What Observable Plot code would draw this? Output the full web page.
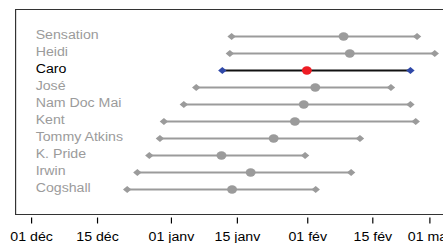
<!DOCTYPE html>
<html>
<head>
<meta charset="utf-8">
<script src="https://cdn.jsdelivr.net/npm/d3@7"></script>
<script src="https://cdn.jsdelivr.net/npm/@observablehq/plot@0.6"></script>
<style>
  html, body { margin: 0; padding: 0; background: #fff; }
  #chart svg { display: block; }
</style>
</head>
<body>
<div id="chart"></div>
<script>
// Varieties (top to bottom)
const names = ["Sensation", "Heidi", "Caro", "José", "Nam Doc Mai", "Kent", "Tommy Atkins", "K. Pride", "Irwin", "Cogshall"];
// Days after 1 December
const starts = [45.2, 44.8, 43.1, 37.2, 34.4, 29.9, 29.0, 26.6, 23.9, 21.6];
const peaks  = [70.5, 71.9, 62.2, 64.1, 61.5, 59.5, 54.7, 42.9, 49.5, 45.3];
const ends   = [87.1, 91.1, 85.6, 81.2, 85.6, 86.8, 74.2, 61.8, 72.2, 64.2];
const highlight = "Caro";
// Axis ticks
const tickValues = [0, 14.9, 31.6, 46.5, 62.4, 77.1, 90];
const tickLabels = ["01 déc", "15 déc", "01 janv", "15 janv", "01 fév", "15 fév", "01 mar"];

const rows = names.map((name, i) => ({name, start: starts[i], peak: peaks[i], end: ends[i]}));
const others = rows.filter(d => d.name !== highlight);
const hi = rows.filter(d => d.name === highlight);

const OUT_W = 443, S = 1.1813, W = OUT_W / S, H = 243;
const gray = "#9b9b9b";

const svg = Plot.plot({
  width: W,
  height: H,
  marginLeft: 15 / S,
  marginRight: 0,
  marginTop: 9,
  marginBottom: 25.5,
  style: {fontFamily: "'Liberation Sans', Arial, sans-serif", fontSize: "12px", color: "#000", background: "#fff"},
  x: {
    domain: [0, 90],
    range: [31 / S, 429.3 / S],
    ticks: tickValues,
    tickFormat: v => tickLabels[tickValues.indexOf(v)],
    tickSize: 6,
    tickPadding: 8,
    label: null
  },
  y: {type: "point", domain: names, range: [34.7, 191], padding: 0, axis: null},
  marks: [
    Plot.frame({stroke: "#333", insetBottom: 3.5, insetRight: -3}),
    Plot.text(names, {
      y: d => d, text: d => d, frameAnchor: "left", dx: 21 / S - 0.8, dy: -1, textAnchor: "start",
      fill: d => d === highlight ? "black" : gray, fontSize: 12
    }),
    Plot.ruleY(others, {y: "name", x1: "start", x2: "end", stroke: gray, strokeWidth: 1.8}),
    Plot.ruleY(hi, {y: "name", x1: "start", x2: "end", stroke: "#111", strokeWidth: 1.8}),
    Plot.dot(others, {x: "start", y: "name", symbol: "diamond2", r: 3.2, fill: gray, stroke: "none"}),
    Plot.dot(others, {x: "end", y: "name", symbol: "diamond2", r: 3.2, fill: gray, stroke: "none"}),
    Plot.dot(others, {x: "peak", y: "name", r: 4.2, fill: gray, stroke: "none"}),
    Plot.dot(hi, {x: "start", y: "name", symbol: "diamond2", r: 3.2, fill: "#2f48a8", stroke: "none"}),
    Plot.dot(hi, {x: "end", y: "name", symbol: "diamond2", r: 3.2, fill: "#2f48a8", stroke: "none"}),
    Plot.dot(hi, {x: "peak", y: "name", r: 4.2, fill: "#ee1c24", stroke: "none"})
  ]
});

svg.setAttribute("width", OUT_W);
svg.setAttribute("height", H);
svg.setAttribute("preserveAspectRatio", "none");
svg.style.width = OUT_W + "px";
svg.style.height = H + "px";
svg.style.maxWidth = "none";
document.getElementById("chart").appendChild(svg);
</script>
</body>
</html>
